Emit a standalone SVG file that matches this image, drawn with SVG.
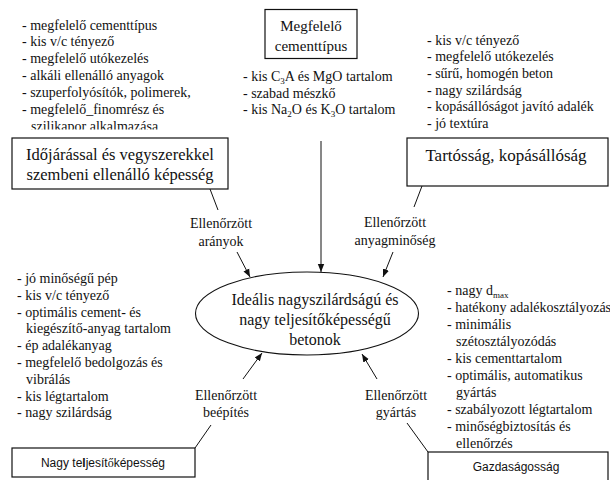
<svg xmlns="http://www.w3.org/2000/svg" width="610" height="480" viewBox="0 0 610 480">
<style>
.t{font-family:'Liberation Serif','Times New Roman','DejaVu Serif',serif;font-size:14px;fill:#111}
.c{text-anchor:middle}
.b{fill:#fff;stroke:#111;stroke-width:1.2}
.s{font-family:'Liberation Sans',Arial,sans-serif;font-size:12px;fill:#111;text-anchor:middle}
.ln{stroke:#111;stroke-width:1;fill:none}
.sub{font-size:9px}
</style>
<defs>
<marker id="ah" viewBox="0 0 10 10" refX="10" refY="5" markerWidth="8" markerHeight="8" markerUnits="userSpaceOnUse" orient="auto">
<path d="M0,1 L10,5 L0,9 Z" fill="#111"/>
</marker>
<clipPath id="clipTL"><rect x="0" y="0" width="240" height="129.5"/></clipPath>
</defs>
<rect width="610" height="480" fill="#fff"/>

<g id="list-top-left" class="t" clip-path="url(#clipTL)">
<text x="22" y="29.5">- megfelelő cementtípus</text>
<text x="22" y="46">- kis v/c tényező</text>
<text x="22" y="63">- megfelelő utókezelés</text>
<text x="22" y="79.5">- alkáli ellenálló anyagok</text>
<text x="22" y="97">- szuperfolyósítók, polimerek,</text>
<text x="22" y="113.5">- megfelelő_finomrész és</text>
<text x="31" y="131">szilikapor alkalmazása</text>
</g>

<g id="node-cement">
<rect class="b" x="265" y="9.5" width="92" height="49"/>
<text class="t c" x="311" y="30.5" style="font-size:15px">Megfelelő</text>
<text class="t c" x="311" y="50.5" style="font-size:15px">cementtípus</text>
</g>

<g id="list-top-center" class="t">
<text x="243" y="81">- kis C<tspan class="sub" dy="3">3</tspan><tspan dy="-3">A és MgO tartalom</tspan></text>
<text x="243" y="97.5">- szabad mészkő</text>
<text x="243" y="114">- kis Na<tspan class="sub" dy="3">2</tspan><tspan dy="-3">O és K</tspan><tspan class="sub" dy="3">3</tspan><tspan dy="-3">O tartalom</tspan></text>
</g>

<g id="list-top-right" class="t">
<text x="427" y="44.5">- kis v/c tényező</text>
<text x="427" y="61.2">- megfelelő utókezelés</text>
<text x="427" y="77.9">- sűrű, homogén beton</text>
<text x="427" y="94.6">- nagy szilárdság</text>
<text x="427" y="111.3">- kopásállóságot javító adalék</text>
<text x="427" y="128">- jó textúra</text>
</g>

<g id="node-idojaras">
<rect class="b" x="12" y="138" width="216" height="51"/>
<text class="t c" x="120" y="160" style="font-size:16.5px">Időjárással és vegyszerekkel</text>
<text class="t c" x="120" y="180" style="font-size:16.5px">szembeni ellenálló képesség</text>
</g>

<g id="node-tartossag">
<rect class="b" x="407" y="138" width="201" height="48"/>
<text class="t c" x="506" y="161" style="font-size:17px">Tartósság, kopásállóság</text>
</g>

<g id="node-ideal">
<ellipse cx="307" cy="313.5" rx="111.5" ry="41.5" fill="#fff" stroke="#111" stroke-width="1.1"/>
<text class="t c" x="315" y="305" style="font-size:16px">Ideális nagyszilárdságú és</text>
<text class="t c" x="315" y="325" style="font-size:16px">nagy teljesítőképességű</text>
<text class="t c" x="315" y="345" style="font-size:16px">betonok</text>
</g>

<g id="list-bottom-left" class="t">
<text x="17" y="283">- jó minőségű pép</text>
<text x="17" y="299.8">- kis v/c tényező</text>
<text x="17" y="316.6">- optimális cement- és</text>
<text x="26" y="333.4">kiegészítő-anyag tartalom</text>
<text x="17" y="350.2">- ép adalékanyag</text>
<text x="17" y="367">- megfelelő bedolgozás és</text>
<text x="26" y="383.8">vibrálás</text>
<text x="17" y="400.6">- kis légtartalom</text>
<text x="17" y="417.4">- nagy szilárdság</text>
</g>

<g id="list-bottom-right" class="t">
<text x="447" y="294.5">- nagy d<tspan class="sub" dy="3">max</tspan></text>
<text x="447" y="311.5">- hatékony adalékosztályozás</text>
<text x="447" y="328.5">- minimális</text>
<text x="456" y="345.5">szétosztályozódás</text>
<text x="447" y="362.5">- kis cementtartalom</text>
<text x="447" y="379.5">- optimális, automatikus</text>
<text x="456" y="396.5">gyártás</text>
<text x="447" y="413.5">- szabályozott légtartalom</text>
<text x="447" y="430.5">- minőségbiztosítás és</text>
<text x="456" y="448">ellenőrzés</text>
</g>

<g id="label-aranyok" class="t c">
<text x="221" y="228">Ellenőrzött</text>
<text x="221" y="246">arányok</text>
</g>
<g id="label-anyagminoseg" class="t c">
<text x="395" y="227">Ellenőrzött</text>
<text x="395" y="245">anyagminőség</text>
</g>
<g id="label-beepites" class="t c">
<text x="226" y="400">Ellenőrzött</text>
<text x="226" y="417">beépítés</text>
</g>
<g id="label-gyartas" class="t c">
<text x="396" y="400">Ellenőrzött</text>
<text x="396" y="417">gyártás</text>
</g>

<g id="node-nagy-teljesitokepesseg">
<rect class="b" x="12" y="448" width="183" height="29"/>
<text class="s" x="103" y="466.5">Nagy te<tspan font-weight="bold">l</tspan>jesít<tspan style="font-family:'Liberation Serif',serif">ő</tspan>képesség</text>
</g>

<g id="node-gazdasagossag">
<rect class="b" x="428" y="452" width="180" height="40"/>
<text class="s" x="516" y="470.5">Gazdaságosság</text>
</g>

<g id="connectors" class="ln">
<line x1="210" y1="189" x2="218" y2="210"/>
<line x1="237" y1="252" x2="250" y2="277" marker-end="url(#ah)"/>
<line x1="321" y1="141" x2="321" y2="272" marker-end="url(#ah)"/>
<line x1="422" y1="186" x2="414" y2="207"/>
<line x1="393" y1="252" x2="383" y2="277" marker-end="url(#ah)"/>
<line x1="243" y1="379" x2="262" y2="353" marker-end="url(#ah)"/>
<line x1="211" y1="425" x2="195" y2="448"/>
<line x1="377" y1="379" x2="362" y2="354" marker-end="url(#ah)"/>
<line x1="407" y1="423" x2="428" y2="452"/>
</g>
</svg>
